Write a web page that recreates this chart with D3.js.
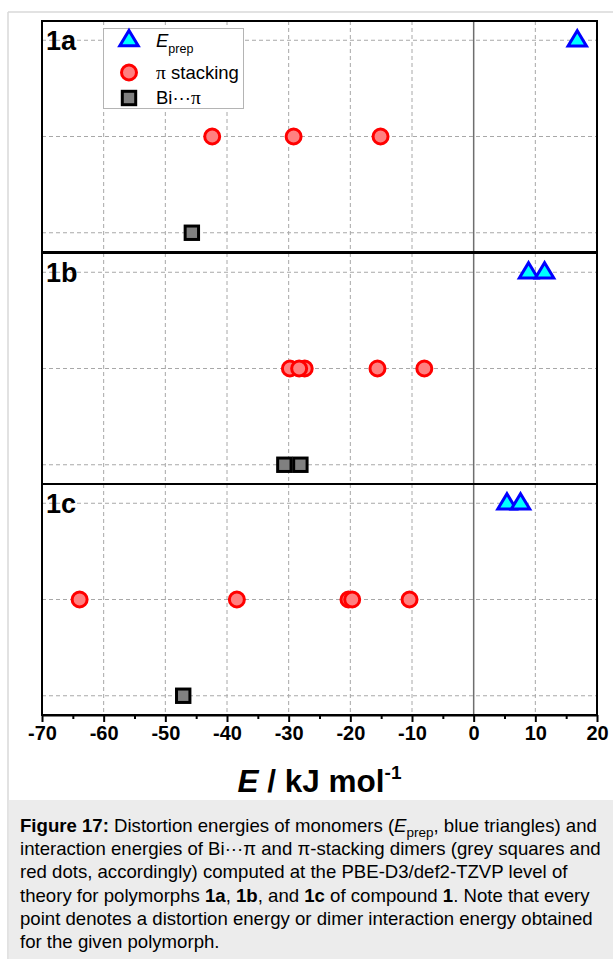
<!DOCTYPE html>
<html>
<head>
<meta charset="utf-8">
<script src="https://cdn.jsdelivr.net/npm/d3@7"></script>
<style>
  html, body { margin: 0; padding: 0; background: #fff; }
  svg { display: block; font-family: "Liberation Sans", Arial, sans-serif; }
</style>
</head>
<body>
<svg id="chart" width="613" height="959"></svg>
<script>
// ---- data ----
const panels = ["1a", "1b", "1c"];
const eprep = [[16.8], [8.9, 11.5], [5.4, 7.6]];
const piStacking = [
  [-42.4, -29.2, -15.1],
  [-29.8, -27.4, -28.3, -15.6, -8.0],
  [-63.9, -38.4, -20.3, -19.7, -10.4]
];
const biPi = [[-45.7], [-30.7, -28.1], [-47.1]];
const xTicks = [-70, -60, -50, -40, -30, -20, -10, 0, 10, 20];
const xMinorTicks = [-65, -55, -45, -35, -25, -15, -5, 5, 15];
const rows = { eprep: 2, pi: 1, bi: 0 };
const legendItems = ["eprep", "pi", "bi"];

// ---- layout ----
const svg = d3.select("#chart");
const W = 613, H = 959;
const plotL = 42, plotR = 597;
const panelTops = [21, 253, 484];
const panelH = 231;
const axisY = panelTops[2] + panelH;

svg.append("rect").attr("width", W).attr("height", H).attr("fill", "#fff");
// outer light border
svg.append("line").attr("x1", 8).attr("x2", W).attr("y1", 12).attr("y2", 12)
  .attr("stroke", "#d8d8d8").attr("stroke-width", 1.5);
svg.append("line").attr("x1", 8).attr("x2", 8).attr("y1", 12).attr("y2", H)
  .attr("stroke", "#d8d8d8").attr("stroke-width", 1.5);
// caption background
svg.append("rect").attr("x", 8.75).attr("y", 800).attr("width", W - 8.75).attr("height", H - 800)
  .attr("fill", "#ececec");

const x = d3.scaleLinear().domain([-70, 20]).range([plotL, plotR]);

const triPath = "M0,-9.5L9.2,5.8L-9.2,5.8Z";
function drawTri(g, cx, cy) {
  g.append("path").attr("d", triPath).attr("transform", `translate(${cx},${cy})`)
    .attr("fill", "#00ffff").attr("stroke", "#0000ff").attr("stroke-width", 3)
    .attr("stroke-linejoin", "miter");
}
function drawCircle(g, cx, cy) {
  g.append("circle").attr("cx", cx).attr("cy", cy).attr("r", 7.5)
    .attr("fill", "#ff8080").attr("stroke", "#ff0000").attr("stroke-width", 3);
}
function drawSquare(g, cx, cy) {
  g.append("rect").attr("x", cx - 6.7).attr("y", cy - 6.7).attr("width", 13.4).attr("height", 13.4)
    .attr("fill", "#808080").attr("stroke", "#000").attr("stroke-width", 3);
}

panels.forEach((p, i) => {
  const top = panelTops[i];
  const y = d3.scaleLinear().domain([2.2, -0.2]).range([top, top + panelH]);
  const g = svg.append("g");

  // vertical grid
  xTicks.filter(t => t > -70 && t < 20).forEach(t => {
    g.append("line").attr("x1", x(t)).attr("x2", x(t)).attr("y1", top).attr("y2", top + panelH)
      .attr("stroke", t === 0 ? "#6e6e6e" : "#a8a8a8")
      .attr("stroke-width", t === 0 ? 1.5 : 1)
      .attr("stroke-dasharray", t === 0 ? null : "4,3");
  });
  // horizontal grid
  [0, 1, 2].forEach(r => {
    g.append("line").attr("x1", plotL).attr("x2", plotR).attr("y1", y(r)).attr("y2", y(r))
      .attr("stroke", "#a8a8a8").attr("stroke-width", 1).attr("stroke-dasharray", "4,3");
  });

  // panel label
  g.append("text").attr("x", 46).attr("y", top + 29).attr("font-size", 27)
    .attr("font-weight", "bold").attr("fill", "#000").text(p);

  // data marks
  biPi[i].forEach(v => drawSquare(g, x(v), y(rows.bi)));
  piStacking[i].forEach(v => drawCircle(g, x(v), y(rows.pi)));
  eprep[i].forEach(v => drawTri(g, x(v), y(rows.eprep)));

  // frame
  g.append("rect").attr("x", plotL).attr("y", top).attr("width", plotR - plotL).attr("height", panelH)
    .attr("fill", "none").attr("stroke", "#000").attr("stroke-width", 2);
});

// ---- legend ----
const lg = svg.append("g");
lg.append("rect").attr("x", 103.5).attr("y", 28.5).attr("width", 140).attr("height", 80)
  .attr("fill", "#fff").attr("stroke", "#b4b4b4").attr("stroke-width", 1);
const legendY = { eprep: 40, pi: 72.5, bi: 98 };
legendItems.forEach(k => {
  if (k === "eprep") drawTri(lg, 129, legendY[k]);
  if (k === "pi") drawCircle(lg, 129, legendY[k]);
  if (k === "bi") drawSquare(lg, 129, legendY[k]);
});
const t1 = lg.append("text").attr("x", 156).attr("y", 47).attr("font-size", 18.5);
t1.append("tspan").attr("font-style", "italic").text("E");
t1.append("tspan").attr("font-size", 12.5).attr("dy", 6).text("prep");
const t2 = lg.append("text").attr("x", 156).attr("y", 78.5).attr("font-size", 18.5);
t2.append("tspan").attr("font-family", "'Liberation Serif', 'Times New Roman', serif").attr("font-size", 19.5).text("π");
t2.append("tspan").text(" stacking");
const t3 = lg.append("text").attr("x", 156).attr("y", 104).attr("font-size", 18.5);
t3.append("tspan").text("Bi···");
t3.append("tspan").attr("font-family", "'Liberation Serif', 'Times New Roman', serif").attr("font-size", 19.5).text("π");

// ---- x axis ----
const axis = svg.append("g").attr("transform", `translate(0,${axisY})`)
  .call(d3.axisBottom(x).tickValues(xTicks).tickSize(7).tickSizeOuter(0).tickPadding(4)
    .tickFormat(d => d));
axis.select(".domain").attr("stroke", "#000").attr("stroke-width", 2);
axis.selectAll(".tick line").attr("stroke", "#000").attr("stroke-width", 2);
axis.selectAll(".tick text").attr("font-size", 20).attr("font-weight", "bold")
  .attr("font-family", "'Liberation Sans', Arial, sans-serif").attr("fill", "#000");
const minorAxis = svg.append("g").attr("transform", `translate(0,${axisY})`)
  .call(d3.axisBottom(x).tickValues(xMinorTicks).tickSize(4).tickFormat(""));
minorAxis.select(".domain").remove();
minorAxis.selectAll(".tick line").attr("stroke", "#000").attr("stroke-width", 2);

// axis title
const title = svg.append("text").attr("x", (plotL + plotR) / 2).attr("y", 792)
  .attr("text-anchor", "middle").attr("font-size", 31.5).attr("font-weight", "bold").attr("fill", "#000");
title.append("tspan").attr("font-style", "italic").text("E");
title.append("tspan").text(" / kJ mol");
title.append("tspan").attr("font-size", 19).attr("dy", -13).text("-1");

// ---- caption ----
const capLines = [
  [["b", "Figure 17:"], ["n", " Distortion energies of monomers ("], ["i", "E"], ["sub", "prep"], ["n", ", blue triangles) and"]],
  [["n", "interaction energies of Bi···π and π-stacking dimers (grey squares and"]],
  [["n", "red dots, accordingly) computed at the PBE-D3/def2-TZVP level of"]],
  [["n", "theory for polymorphs "], ["b", "1a"], ["n", ", "], ["b", "1b"], ["n", ", and "], ["b", "1c"], ["n", " of compound "], ["b", "1"], ["n", ". Note that every"]],
  [["n", "point denotes a distortion energy or dimer interaction energy obtained"]],
  [["n", "for the given polymorph."]]
];
capLines.forEach((line, li) => {
  const t = svg.append("text").attr("x", 20).attr("y", 832 + li * 23.2)
    .attr("font-size", 18.6).attr("fill", "#000");
  let shifted = false;
  line.forEach(([kind, s]) => {
    const ts = t.append("tspan").text(s);
    if (shifted) { ts.attr("dy", -4.5); shifted = false; }
    if (kind === "b") ts.attr("font-weight", "bold");
    if (kind === "i") ts.attr("font-style", "italic");
    if (kind === "sub") { ts.attr("font-size", 13.5).attr("dy", 4.5); shifted = true; }
  });
});
</script>
</body>
</html>
